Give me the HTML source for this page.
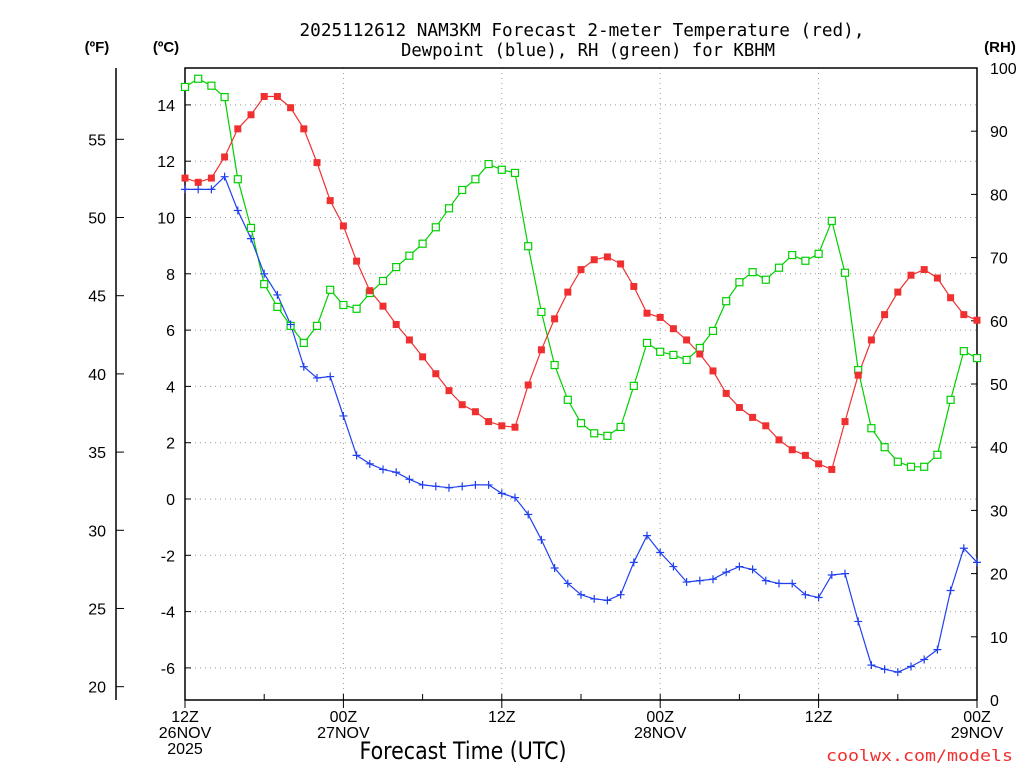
<!DOCTYPE html>
<html><head><meta charset="utf-8"><style>
body{margin:0;background:#fff;}
svg{display:block;font-family:"Liberation Sans",sans-serif;}
</style></head><body>
<svg id="chart" width="1024" height="768" viewBox="0 0 1024 768">
<text x="582" y="36" font-size="18" text-anchor="middle" textLength="565" lengthAdjust="spacingAndGlyphs" font-family="DejaVu Sans Mono, monospace">2025112612 NAM3KM Forecast 2-meter Temperature (red),</text>
<text x="588" y="56" font-size="18" text-anchor="middle" textLength="374" lengthAdjust="spacingAndGlyphs" font-family="DejaVu Sans Mono, monospace">Dewpoint (blue), RH (green) for KBHM</text>
<text x="97" y="52" font-size="15" font-weight="bold" text-anchor="middle">(ºF)</text>
<text x="166" y="52" font-size="15" font-weight="bold" text-anchor="middle">(ºC)</text>
<text x="1000" y="52" font-size="15" font-weight="bold" text-anchor="middle">(RH)</text>
<text x="463" y="759" font-size="24" text-anchor="middle" textLength="207" lengthAdjust="spacingAndGlyphs" font-family="DejaVu Sans, sans-serif">Forecast Time (UTC)</text>
<text x="1013" y="761" font-size="16" fill="#f03030" text-anchor="end" textLength="187" lengthAdjust="spacingAndGlyphs" font-family="DejaVu Sans Mono, monospace">coolwx.com/models</text>
<g id="grid"></g><g id="axes"></g><g id="series"></g>
</svg>
<script>
const temps=[11.4,11.25,11.4,12.15,13.15,13.65,14.3,14.3,13.9,13.15,11.95,10.6,9.7,8.45,7.4,6.85,6.2,5.65,5.05,4.45,3.85,3.35,3.1,2.75,2.6,2.55,4.05,5.3,6.4,7.35,8.15,8.5,8.6,8.35,7.55,6.6,6.45,6.05,5.65,5.15,4.55,3.75,3.25,2.9,2.6,2.1,1.75,1.55,1.25,1.05,2.75,4.4,5.65,6.55,7.35,7.95,8.15,7.85,7.15,6.55,6.35];
const dewpts=[11.0,11.0,11.0,11.45,10.25,9.25,8.0,7.25,6.2,4.7,4.3,4.35,2.95,1.55,1.25,1.05,0.95,0.7,0.5,0.45,0.4,0.45,0.5,0.5,0.2,0.05,-0.55,-1.45,-2.45,-3.0,-3.4,-3.55,-3.6,-3.4,-2.25,-1.3,-1.9,-2.4,-2.95,-2.9,-2.85,-2.6,-2.4,-2.5,-2.9,-3.0,-3.0,-3.4,-3.5,-2.7,-2.65,-4.35,-5.9,-6.05,-6.15,-5.95,-5.7,-5.35,-3.25,-1.75,-2.25];
const rhs=[97,98.3,97.2,95.4,82.4,74.7,65.8,62.2,59.2,56.5,59.2,64.9,62.5,61.9,64.4,66.3,68.5,70.3,72.2,74.8,77.8,80.7,82.4,84.8,83.9,83.4,71.8,61.4,53.0,47.5,43.8,42.2,41.8,43.2,49.7,56.5,55.1,54.6,53.8,55.7,58.4,63.1,66.1,67.7,66.5,68.4,70.4,69.5,70.6,75.8,67.6,52.2,43.0,40.0,37.7,36.9,36.9,38.8,47.5,55.2,54.1];
const cTicks=[-6,-4,-2,0,2,4,6,8,10,12,14];
const fTicks=[20,25,30,35,40,45,50,55];
const rhTicks=[0,10,20,30,40,50,60,70,80,90,100];
const xTickHours=[0,12,24,36,48,60];
const xTickLabels=[["12Z","26NOV","2025"],["00Z","27NOV"],["12Z"],["00Z","28NOV"],["12Z"],["00Z","29NOV"]];

const X0=185,X1=977,Y0=68,Y1=700;
const xs=h=>X0+(X1-X0)*h/60;
const yc=c=>499-c*28.15;
const yf=f=>yc((f-32)*5/9);
const yr=r=>Y1-(Y1-Y0)*r/100;
const NS="http://www.w3.org/2000/svg";
function mk(tag,attrs,parent,txt){const e=document.createElementNS(NS,tag);for(const k in attrs)e.setAttribute(k,attrs[k]);if(txt!==undefined)e.textContent=txt;parent.appendChild(e);return e;}
const grid=document.getElementById('grid'),axes=document.getElementById('axes'),ser=document.getElementById('series');

cTicks.forEach(c=>{
  const g=mk('line',{x1:X0,x2:X1,y1:yc(c),y2:yc(c),stroke:'#999','stroke-dasharray':'1 4'},grid);
  
  
  mk('line',{x1:X0,x2:X0+6,y1:yc(c),y2:yc(c),stroke:'#000'},axes);
  const t=mk('text',{x:X0-10,y:yc(c)+6,'font-size':16,'text-anchor':'end'},axes,String(c));
  
  
});
xTickHours.forEach((h,i)=>{
  if(h>0&&h<60){const g=mk('line',{x1:xs(h),x2:xs(h),y1:Y0,y2:Y1,stroke:'#999','stroke-dasharray':'1 4'},grid);
  
  }
  mk('line',{x1:xs(h),x2:xs(h),y1:Y1,y2:Y1+8,stroke:'#000'},axes);
  xTickLabels[i].forEach((s,j)=>{
    const t=mk('text',{x:xs(h),y:Y1+22+j*16,'font-size':16,'text-anchor':'middle'},axes,s);
    
    
  });
});
for(let h=0;h<=60;h+=6){mk('line',{x1:xs(h),x2:xs(h),y1:Y1,y2:Y1-6,stroke:'#000'},axes);}
mk('rect',{x:X0,y:Y0,width:X1-X0,height:Y1-Y0,fill:'none',stroke:'#000','stroke-width':1.5},axes);
mk('line',{x1:116,x2:116,y1:Y0,y2:Y1,stroke:'#000','stroke-width':1.5},axes);
fTicks.forEach(f=>{
  mk('line',{x1:116,x2:124,y1:yf(f),y2:yf(f),stroke:'#000'},axes);
  const t=mk('text',{x:106,y:yf(f)+6,'font-size':16,'text-anchor':'end'},axes,String(f));
  
  
});
rhTicks.forEach(r=>{
  mk('line',{x1:X1,x2:X1-6,y1:yr(r),y2:yr(r),stroke:'#000'},axes);
  const t=mk('text',{x:990,y:yr(r)+6,'font-size':16},axes,String(r));
  
  
});

function line(vals,yfn,color,name){
  const pts=vals.map((v,i)=>xs(i).toFixed(1)+','+yfn(v).toFixed(1)).join(' ');
  const p=mk('polyline',{points:pts,fill:'none',stroke:color,'stroke-width':1.2},ser);
  
  
}
line(rhs,yr,'#00d000','rh');
line(temps,yc,'#f03030','temperature');
line(dewpts,yc,'#2040f0','dewpoint');
rhs.forEach((v,i)=>{const m=mk('rect',{x:xs(i)-3.5,y:yr(v)-3.5,width:7,height:7,fill:'#fff',stroke:'#00d000','stroke-width':1.2},ser);
  
  });
temps.forEach((v,i)=>{const m=mk('rect',{x:xs(i)-3.5,y:yc(v)-3.5,width:7,height:7,fill:'#f03030'},ser);
  
  });
dewpts.forEach((v,i)=>{const x=xs(i),y=yc(v);const m=mk('path',{d:`M${x-4},${y}H${x+4}M${x},${y-4}V${y+4}`,stroke:'#2040f0','stroke-width':1.2},ser);
  
  });
</script>
</body></html>
